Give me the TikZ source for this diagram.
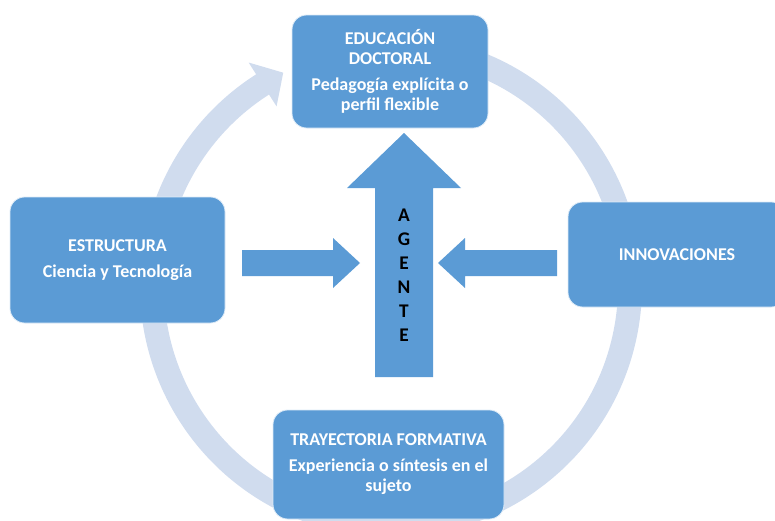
\documentclass[tikz,border=0pt]{standalone}
\usepackage{fontspec}
\setmainfont{Carlito}
\usepackage{tikz}
\definecolor{boxblue}{HTML}{5B9BD5}
\definecolor{ringblue}{HTML}{D0DCEE}
\tikzset{
  stagebox/.style={rounded corners=11pt, fill=boxblue, draw=white!80!boxblue, line width=0.6pt,
    text=white, align=center, inner sep=2pt, font=\fontsize{13.5}{15}\selectfont\bfseries},
  blockarrow/.style={fill=boxblue},
  ring/.style={draw=ringblue, line width=18pt}
}
\begin{document}
\begin{tikzpicture}[x=0.75pt, y=0.75pt]

          \useasboundingbox (0,0) rectangle (775,-521);
          \clip (0,0) rectangle (775,-521);

          % Cycle ring with its head at the upper left
          \begin{scope}[shift={(391,-286)}]
            \draw[ring] (80:239) arc[start angle=80, end angle=-238, radius=239];
            \fill[ringblue] (-237.5:265) -- (-243.2:239) -- (-237.5:213) -- cycle;
          \end{scope}

          % Top box
          \node[stagebox, minimum width=147pt, minimum height=84.75pt] (educacion) at (390,-71.5)
            {EDUCACIÓN\\DOCTORAL\\[5pt]Pedagogía explícita o\\perfil flexible};

          % Left box
          \node[stagebox, minimum width=161.25pt, minimum height=94.5pt] (estructura) at (117.5,-260)
            {ESTRUCTURA\\[4.5pt]Ciencia y Tecnología};

          % Right box (runs past the edge)
          \node[stagebox, minimum width=163.5pt, minimum height=78.75pt] (innovaciones) at (677,-254.5)
            {INNOVACIONES};

          % Bottom box
          \node[stagebox, minimum width=173.25pt, minimum height=81.75pt] (trayectoria) at (388.5,-464.5)
            {TRAYECTORIA FORMATIVA\\[4.5pt]Experiencia o síntesis en el\\sujeto};

          % Up arrow with AGENTE
          \fill[blockarrow] (375,-377) -- (375,-188) -- (347,-188) -- (404,-133)
            -- (461,-188) -- (433,-188) -- (433,-377) -- cycle;
          \node[align=center, font=\fontsize{14.5}{18}\selectfont\bfseries] (agente) at (404,-275)
            {A\\G\\E\\N\\T\\E};

          % Arrow from the left
          \fill[blockarrow] (242,-250) -- (333,-250) -- (333,-238) -- (360,-263)
            -- (333,-288) -- (333,-276) -- (242,-276) -- cycle;

          % Arrow from the right
          \fill[blockarrow] (557,-250) -- (465,-250) -- (465,-238) -- (438,-263)
            -- (465,-288) -- (465,-276) -- (557,-276) -- cycle;

      \end{tikzpicture}
\end{document}
